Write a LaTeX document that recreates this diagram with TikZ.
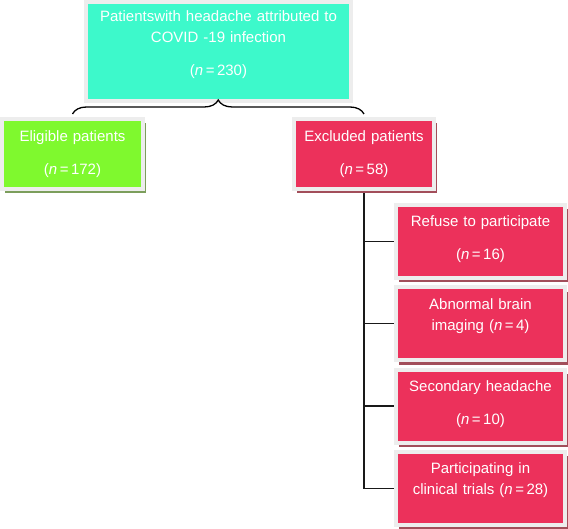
\documentclass[tikz,border=0pt]{standalone}
\usepackage{fontspec}
\setmainfont{Liberation Sans}
\usetikzlibrary{positioning,shadows,decorations.pathreplacing,backgrounds}

\definecolor{tealbox}{HTML}{3DF9CB}
\definecolor{greenbox}{HTML}{7FF92E}
\definecolor{redbox}{HTML}{EC315B}
\definecolor{boxframe}{HTML}{EDEDED}
\definecolor{greenshade}{HTML}{7C9E5C}
\definecolor{redshade}{HTML}{A24E5A}

\tikzset{
	box/.style={draw=boxframe, line width=4pt, inner sep=0pt, text=white, align=center,
		font=\fontsize{15}{21}\selectfont},
	redcase/.style={box, fill=redbox, drop shadow={shadow xshift=3pt, shadow yshift=-4.5pt, fill=redshade, opacity=1}},
	subcase/.style={redcase, text width=169pt, text height=22pt, text depth=51pt},
	link/.style={line width=1.2pt, black!90}
}

\newcommand{\nval}[1]{(\textit{n}\,=\,#1)}

\begin{document}
\begin{tikzpicture}[x=1pt, y=-1pt]
	\useasboundingbox (0,0) rectangle (568,529);
	% total
	\node[box, fill=tealbox, text width=265pt, text height=20pt, text depth=79pt] (total) at (218.5,51.5)
		{Patientswith headache attributed to\\COVID -19 infection\\[12pt]\nval{230}};
	% split
	\node[box, fill=greenbox, text width=141pt, text height=23pt, text depth=47pt,
		drop shadow={shadow xshift=3pt, shadow yshift=-4.5pt, fill=greenshade, opacity=1}] (eligible) at (72.5,154)
		{Eligible patients\\[12pt]\nval{172}};
	\node[redcase, text width=140pt, text height=23pt, text depth=47pt] (excluded) at (364,154)
		{Excluded patients\\[12pt]\nval{58}};
	% reasons
	\node[subcase] (refuse) at (480.5,241.5) {Refuse to participate\\[12pt]\nval{16}};
	\node[subcase, below=5.3pt of refuse] (abnormal) {Abnormal brain\\imaging \nval{4}};
	\node[subcase, below=5.3pt of abnormal] (secondary) {Secondary headache\\[12pt]\nval{10}};
	\node[subcase, below=5.3pt of secondary] (trials) {Participating in\\clinical trials \nval{28}};

	\draw[line width=1.3pt, decorate, decoration={brace, amplitude=14pt}]
		([yshift=3pt]eligible.north) -- ([yshift=3pt]excluded.north);
	\begin{scope}[on background layer]
		\draw[link] (excluded.south) |- (trials.west);
		\foreach \b in {refuse,abnormal,secondary}
			\draw[link] (excluded.south |- \b.west) -- (\b.west);
	\end{scope}
\end{tikzpicture}
\end{document}
